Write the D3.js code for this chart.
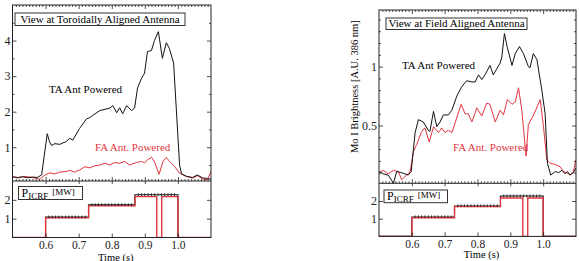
<!DOCTYPE html>
<html>
<head>
<meta charset="utf-8">
<script src="https://cdn.jsdelivr.net/npm/d3@7"></script>
<style>
  body { margin: 0; background: #fff; }
  svg text { font-family: "Liberation Serif", "Times New Roman", "DejaVu Serif", serif !important; }
</style>
</head>
<body>
<svg id="chart" width="579" height="261"></svg>
<script>
// ---- data (time in s, brightness in A.U., power in MW) ----
const timeDomain = [0.5, 1.1];
const timeTicks = [0.6, 0.7, 0.8, 0.9, 1.0];

// left: view at toroidally aligned antenna
const leftTA = [
  [0.500, 0.17], [0.515, 0.14], [0.530, 0.17], [0.545, 0.14], [0.560, 0.16], [0.575, 0.15],
  [0.588, 0.22], [0.605, 1.38], [0.612, 1.15], [0.618, 1.05], [0.628, 1.10], [0.643, 1.08],
  [0.652, 1.12], [0.661, 1.15], [0.673, 1.25], [0.682, 1.20], [0.703, 1.53], [0.724, 1.80],
  [0.733, 1.83], [0.742, 1.89], [0.764, 2.03], [0.794, 2.10], [0.803, 2.17], [0.815, 1.97],
  [0.824, 2.11], [0.833, 1.94], [0.845, 2.17], [0.860, 2.03], [0.869, 2.10], [0.878, 2.67],
  [0.890, 2.94], [0.899, 3.08], [0.908, 3.69], [0.920, 3.72], [0.929, 4.00], [0.941, 4.25],
  [0.953, 3.50], [0.965, 3.94], [0.974, 3.78], [0.987, 3.37], [1.005, 0.50], [1.011, 0.25],
  [1.026, 0.18], [1.044, 0.15], [1.059, 0.22], [1.074, 0.14], [1.089, 0.12], [1.100, 0.10]
];
const leftFA = [
  [0.500, 0.17], [0.517, 0.15], [0.538, 0.18], [0.559, 0.15], [0.583, 0.10], [0.598, 0.22],
  [0.613, 0.28], [0.628, 0.25], [0.643, 0.30], [0.664, 0.32], [0.673, 0.35], [0.688, 0.30],
  [0.703, 0.36], [0.719, 0.45], [0.734, 0.42], [0.749, 0.48], [0.764, 0.50], [0.779, 0.55],
  [0.794, 0.50], [0.809, 0.57], [0.824, 0.55], [0.839, 0.60], [0.854, 0.50], [0.875, 0.57],
  [0.890, 0.60], [0.899, 0.56], [0.908, 0.64], [0.920, 0.72], [0.929, 0.60], [0.943, 0.24],
  [0.955, 0.60], [0.965, 0.71], [0.975, 0.60], [0.990, 0.46], [1.005, 0.27], [1.020, 0.20],
  [1.044, 0.13], [1.059, 0.20], [1.074, 0.11], [1.089, 0.08], [1.100, 0.32]
];
const leftPwrTA = [
  [0.5, 0], [0.6, 0], [0.6, 1.08], [0.73, 1.08], [0.73, 1.73], [0.87, 1.73],
  [0.87, 2.27], [1.0, 2.27], [1.0, 0], [1.1, 0]
];
const leftPwrFA = [
  [0.5, 0], [0.6, 0], [0.6, 1.04], [0.73, 1.04], [0.73, 1.68], [0.87, 1.68],
  [0.87, 2.17], [0.936, 2.17], [0.936, 0], [0.951, 0], [0.951, 2.17], [1.0, 2.17], [1.0, 0], [1.1, 0]
];

// right: view at field aligned antenna
const rightTA = [
  [0.500, 0.11], [0.513, 0.09], [0.528, 0.08], [0.544, 0.01], [0.554, 0.11], [0.569, 0.10],
  [0.589, 0.08], [0.598, 0.11], [0.610, 0.44], [0.620, 0.55], [0.635, 0.53], [0.650, 0.46],
  [0.655, 0.45], [0.666, 0.62], [0.676, 0.49], [0.686, 0.53], [0.696, 0.59], [0.711, 0.59],
  [0.722, 0.63], [0.737, 0.75], [0.752, 0.83], [0.767, 0.88], [0.783, 0.87], [0.793, 0.87],
  [0.803, 0.93], [0.813, 0.89], [0.823, 0.93], [0.838, 1.01], [0.848, 0.93], [0.869, 1.03],
  [0.874, 1.08], [0.882, 1.28], [0.891, 1.16], [0.905, 1.01], [0.915, 1.11], [0.928, 1.17],
  [0.940, 1.11], [0.955, 1.00], [0.960, 0.99], [0.970, 1.11], [0.981, 1.06], [0.986, 0.97],
  [0.996, 0.80], [1.006, 0.60], [1.013, 0.18], [1.023, 0.08], [1.037, 0.11], [1.047, 0.10],
  [1.057, 0.12], [1.067, 0.09], [1.074, 0.11], [1.082, 0.08], [1.092, 0.10], [1.100, 0.14]
];
const rightFA = [
  [0.500, 0.10], [0.513, 0.12], [0.528, 0.09], [0.544, 0.12], [0.559, 0.11], [0.569, 0.04],
  [0.584, 0.08], [0.595, 0.11], [0.605, 0.28], [0.615, 0.34], [0.630, 0.45], [0.640, 0.48],
  [0.653, 0.36], [0.666, 0.49], [0.681, 0.44], [0.691, 0.48], [0.701, 0.44], [0.711, 0.46],
  [0.722, 0.44], [0.735, 0.55], [0.750, 0.68], [0.762, 0.60], [0.772, 0.60], [0.783, 0.53],
  [0.798, 0.65], [0.813, 0.58], [0.828, 0.69], [0.838, 0.68], [0.854, 0.53], [0.869, 0.63],
  [0.879, 0.59], [0.891, 0.72], [0.905, 0.68], [0.915, 0.70], [0.925, 0.82], [0.935, 0.63],
  [0.948, 0.24], [0.955, 0.51], [0.971, 0.59], [0.991, 0.72], [1.001, 0.49], [1.011, 0.21],
  [1.021, 0.18], [1.037, 0.17], [1.052, 0.15], [1.062, 0.11], [1.072, 0.10], [1.082, 0.08],
  [1.092, 0.11], [1.100, 0.21]
];
const rightPwrTA = [
  [0.5, 0], [0.6, 0], [0.6, 1.1], [0.73, 1.1], [0.73, 1.72], [0.87, 1.72],
  [0.87, 2.28], [1.0, 2.28], [1.0, 0], [1.1, 0]
];
const rightPwrFA = [
  [0.5, 0], [0.6, 0], [0.6, 1.05], [0.73, 1.05], [0.73, 1.68], [0.87, 1.68],
  [0.87, 2.17], [0.938, 2.17], [0.938, 0], [0.953, 0], [0.953, 2.17], [1.0, 2.17], [1.0, 0], [1.1, 0]
];

// sample times of the black power trace markers
const pwrMarkT = [
  0.61, 0.62, 0.63, 0.64, 0.65, 0.66, 0.67, 0.68, 0.69, 0.70, 0.71, 0.72,
  0.74, 0.75, 0.76, 0.77, 0.78, 0.79, 0.80, 0.81, 0.82, 0.83, 0.84, 0.85, 0.86,
  0.88, 0.89, 0.90, 0.91, 0.92, 0.93, 0.94, 0.95, 0.96, 0.97, 0.98, 0.99
];
const pwrTicks = [1, 2];

const RED = "#e2363f";
const SERIF = '"Liberation Serif", "Times New Roman", "DejaVu Serif", serif';
const svg = d3.select("#chart").style("font-family", SERIF);

const panels = [
  {
    id: "L", left: 12.5, right: 211, top: 5, split: 181, bottom: 237.5,
    yDomain: [0.05, 5], yMajor: [1, 2, 3, 4], yMinor: [0.5, 1.5, 2.5, 3.5, 4.5],
    ta: leftTA, fa: leftFA, pTA: leftPwrTA, pFA: leftPwrFA,
    title: "View at Toroidally Aligned Antenna", titleBox: [15, 13, 170, 12.5],
    taLabel: [49, 93], faLabel: [95, 151], pBox: [18.5, 186.5, 64, 13], timeY: 260.5
  },
  {
    id: "R", left: 379, right: 576, top: 10, split: 183.3, bottom: 236.4,
    yDomain: [0.01, 1.48], yMajor: [0.5, 1],
    yMinor: [0.1, 0.2, 0.3, 0.4, 0.6, 0.7, 0.8, 0.9, 1.1, 1.2, 1.3, 1.4],
    ta: rightTA, fa: rightFA, pTA: rightPwrTA, pFA: rightPwrFA,
    title: "View at Field Aligned Antenna", titleBox: [386, 18, 141, 11.5],
    taLabel: [402, 69], faLabel: [453, 150.5], pBox: [384, 190, 63.5, 12.7], timeY: 258,
    yLabel: "Mo I Brightness [A.U. 386 nm]"
  }
];

panels.forEach(p => drawPanel(p));

function drawPanel(p) {
  const x = d3.scaleLinear().domain(timeDomain).range([p.left, p.right]);
  const y = d3.scaleLinear().domain(p.yDomain).range([p.split, p.top]);
  const yp = d3.scaleLinear().domain([0, 3]).range([p.bottom, p.split]);
  const g = svg.append("g");

  // clip regions
  const defs = svg.append("defs");
  defs.append("clipPath").attr("id", "clipU" + p.id).append("rect")
    .attr("x", p.left).attr("y", p.top).attr("width", p.right - p.left).attr("height", p.split - p.top);
  defs.append("clipPath").attr("id", "clipP" + p.id).append("rect")
    .attr("x", p.left).attr("y", p.split).attr("width", p.right - p.left).attr("height", p.bottom - p.split);

  const lineU = d3.line().x(d => x(d[0])).y(d => y(d[1]));
  const lineP = d3.line().x(d => x(d[0])).y(d => yp(d[1]));

  const up = g.append("g").attr("clip-path", `url(#clipU${p.id})`);
  up.append("path").datum(p.fa).attr("d", lineU)
    .attr("fill", "none").attr("stroke", RED).attr("stroke-width", 1);
  up.append("path").datum(p.ta).attr("d", lineU)
    .attr("fill", "none").attr("stroke", "#111").attr("stroke-width", 1);

  const lo = g.append("g").attr("clip-path", `url(#clipP${p.id})`);
  lo.append("path").datum(p.pTA).attr("d", lineP)
    .attr("fill", "none").attr("stroke", "#111").attr("stroke-width", 1.1);
  lo.append("path").datum(p.pFA).attr("d", lineP)
    .attr("fill", "none").attr("stroke", RED).attr("stroke-width", 1.4);
  // black markers on the TA power trace
  const levelAt = t => {
    let v = 0;
    p.pTA.forEach(d => { if (d[0] <= t) v = d[1]; });
    return v;
  };
  lo.selectAll("path.mk").data(pwrMarkT).join("path").attr("class", "mk")
    .attr("d", t => {
      const cx = x(t), cy = yp(levelAt(t));
      return `M${cx},${cy - 1.6}V${cy + 1.2}`;
    })
    .attr("stroke", "#111").attr("stroke-width", 0.8);

  // axes helper
  function ax(axis, tr, vals, size, fmt, pad, fs) {
    const a = g.append("g").attr("transform", tr)
      .call(axis.tickValues(vals).tickSize(size).tickPadding(pad || 3).tickFormat(fmt || ""));
    a.attr("font-family", SERIF);
    a.select(".domain").remove();
    a.selectAll("line").attr("stroke", "#222").attr("stroke-width", 0.8);
    a.selectAll("text").attr("font-size", fs || 12).attr("fill", "#222");
    return a;
  }
  const minorT = [];
  for (let i = 51; i < 110; i++) if (i % 10 !== 0) minorT.push(i / 100);
  const majorT = timeTicks;

  // upper panel: top and bottom tick rows
  ax(d3.axisTop(x), `translate(0,${p.top})`, minorT, -2);
  ax(d3.axisTop(x), `translate(0,${p.top})`, majorT, -4);
  ax(d3.axisBottom(x), `translate(0,${p.split})`, minorT, -2);
  ax(d3.axisBottom(x), `translate(0,${p.split})`, majorT, -4);
  // lower panel: top row and labelled bottom axis
  ax(d3.axisTop(x), `translate(0,${p.split})`, majorT, -3);
  ax(d3.axisBottom(x), `translate(0,${p.bottom})`, majorT, -4, d3.format(".1f"), 3, 11.5);

  // y axes
  ax(d3.axisLeft(y), `translate(${p.left},0)`, p.yMajor, -4, d3.format("~g"), 2);
  ax(d3.axisLeft(y), `translate(${p.left},0)`, p.yMinor, -2);
  ax(d3.axisRight(y), `translate(${p.right},0)`, p.yMajor, -4);
  ax(d3.axisRight(y), `translate(${p.right},0)`, p.yMinor, -2);
  ax(d3.axisLeft(yp), `translate(${p.left},0)`, pwrTicks, -4, d3.format("d"), 2);
  ax(d3.axisRight(yp), `translate(${p.right},0)`, pwrTicks, -4);

  // frames
  g.append("rect").attr("x", p.left).attr("y", p.top)
    .attr("width", p.right - p.left).attr("height", p.bottom - p.top)
    .attr("fill", "none").attr("stroke", "#222").attr("stroke-width", 1);
  g.append("line").attr("x1", p.left).attr("x2", p.right)
    .attr("y1", p.split).attr("y2", p.split)
    .attr("stroke", "#222").attr("stroke-width", 1);

  // title box
  const tb = p.titleBox;
  g.append("rect").attr("x", tb[0]).attr("y", tb[1]).attr("width", tb[2]).attr("height", tb[3])
    .attr("fill", "#fff").attr("stroke", "#333").attr("stroke-width", 1);
  g.append("text").attr("x", tb[0] + tb[2] / 2).attr("y", tb[1] + tb[3] - 2.5)
    .attr("text-anchor", "middle").attr("font-size", 11).text(p.title);

  g.append("text").attr("x", p.taLabel[0]).attr("y", p.taLabel[1])
    .attr("font-size", 11).text("TA Ant Powered");
  g.append("text").attr("x", p.faLabel[0]).attr("y", p.faLabel[1])
    .attr("font-size", 11).attr("fill", RED).style("fill", RED).text("FA Ant. Powered");

  // P_ICRF box
  const pb = p.pBox;
  g.append("rect").attr("x", pb[0]).attr("y", pb[1]).attr("width", pb[2]).attr("height", pb[3])
    .attr("fill", "#fff").attr("stroke", "#333").attr("stroke-width", 1);
  const pt = g.append("text").attr("x", pb[0] + 3).attr("y", pb[1] + pb[3] - 2.5).attr("font-size", 12);
  pt.append("tspan").text("P");
  pt.append("tspan").attr("font-size", 9).attr("dy", 1.5).text("ICRF");
  pt.append("tspan").attr("font-size", 9).attr("dx", 4).attr("dy", -3.5).text("[MW]");

  g.append("text").attr("x", (x(0.6) + x(1.0)) / 2 + 4).attr("y", p.timeY)
    .attr("text-anchor", "middle").attr("font-size", 10.5).text("Time (s)");

  if (p.yLabel) {
    g.append("text").attr("transform", `translate(${p.left - 21},${(p.top + p.split) / 2 - 10}) rotate(-90)`)
      .attr("text-anchor", "middle").attr("font-size", 10.5).text(p.yLabel);
  }
}
</script>
</body>
</html>
